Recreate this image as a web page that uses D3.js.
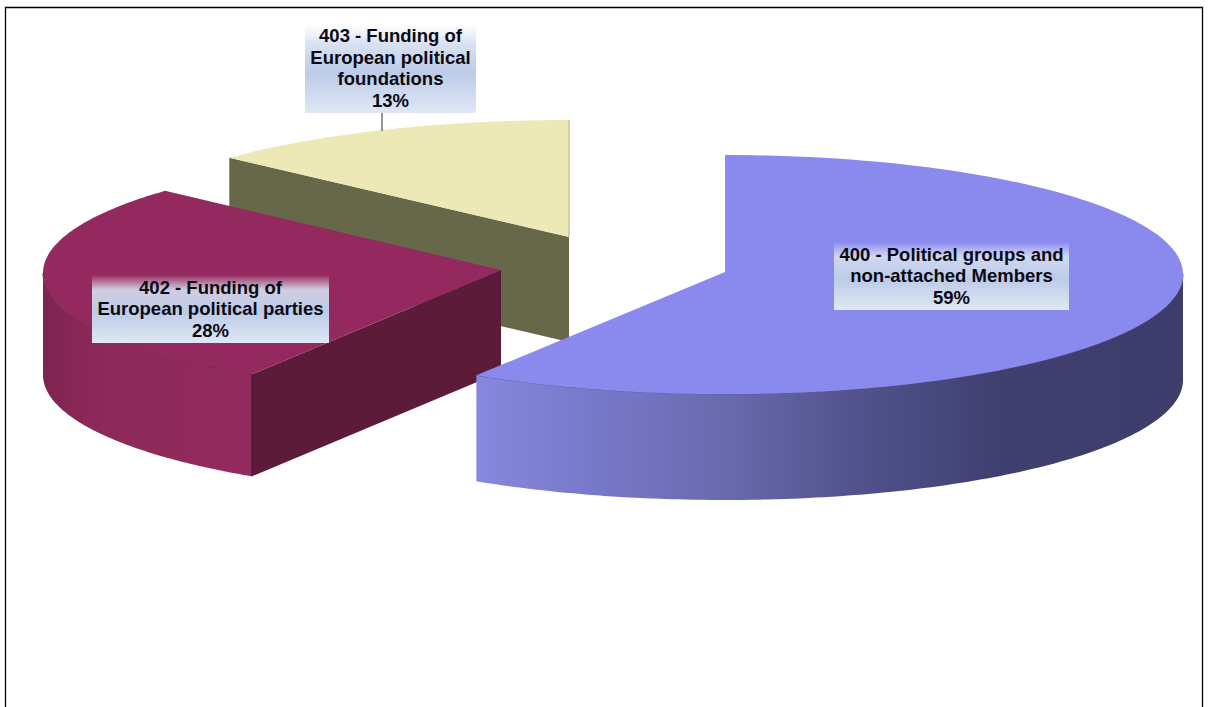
<!DOCTYPE html>
<html>
<head>
<meta charset="utf-8">
<script src="https://cdn.jsdelivr.net/npm/d3@7"></script>
<style>
  html, body { margin: 0; padding: 0; background: #fff; overflow: hidden; }
  svg { display: block; }
  text { font-family: "Liberation Sans", Arial, sans-serif; font-weight: bold; fill: #0a0a14; }
</style>
</head>
<body>
<svg id="chart" width="1209" height="707"></svg>
<script>
// Budget shares
const codes = ["400", "402", "403"];
const names = [
  ["400 - Political groups and", "non-attached Members"],
  ["402 - Funding of", "European political parties"],
  ["403 - Funding of", "European political", "foundations"]
];
const shares = [59, 28, 13];

// Exploded-pie layout, one entry per code.
// apex: inner corner of the slice; ellipse: rim centre and half-axes
// (left, right, up, down), since the oblique view is not quite symmetric.
const apexes = { "400": [725, 272], "402": [501, 270], "403": [569, 237] };
const ellipses = {
  "400": { cx: 725, cy: 274, l: 464, r: 458, u: 119, d: 120 },
  "402": { cx: 493, cy: 273, l: 450, r: 450, u: 120, d: 120 },
  "403": { cx: 569, cy: 240, l: 466, r: 466, u: 120, d: 120 }
};
const depths = { "400": 106, "402": 102, "403": 105 };
const boxes = {
  "400": { x: 834, y: 242, w: 235, h: 68 },
  "402": { x: 92, y: 275, w: 237, h: 68 },
  "403": { x: 305, y: 23, w: 171, h: 90 }
};
const topFill = { "400": "#8a8aee", "402": "#93295e", "403": "#ece9b7" };
const cutFill = { "402": "#5c1b38", "403": "#67684a" };

const svg = d3.select("#chart");
const defs = svg.append("defs");

function hGradient(id, x1, x2, stops) {
  const g = defs.append("linearGradient").attr("id", id)
    .attr("gradientUnits", "userSpaceOnUse")
    .attr("x1", x1).attr("x2", x2).attr("y1", 0).attr("y2", 0);
  stops.forEach(s => g.append("stop").attr("offset", s[0]).attr("stop-color", s[1]));
}
hGradient("side400", 476, 1183, [[0, "#8787de"], [0.18, "#7777c8"], [0.35, "#6a6aae"], [0.55, "#50518a"], [0.74, "#3f4070"], [1, "#3c3d6a"]]);
hGradient("side402", 43, 253, [[0, "#7d2450"], [0.25, "#8d295a"], [1, "#932b5e"]]);

const labelFade = defs.append("linearGradient").attr("id", "labelFade")
  .attr("x1", 0).attr("x2", 0).attr("y1", 0).attr("y2", 1);
[[0, "#e8edf6", 0], [0.22, "#d6dff0", 0.9], [0.55, "#bccbe8", 1], [1, "#e0e7f4", 1]].forEach(s =>
  labelFade.append("stop").attr("offset", s[0]).attr("stop-color", s[1]).attr("stop-opacity", s[2]));

const slices = d3.pie().sort(null).value(d => d.share)(
  codes.map((code, i) => ({ code, share: shares[i], lines: names[i] }))
);

// A slice lives on its own ellipse: angle -> screen position
function projector(code) {
  const e = ellipses[code];
  const sx = d3.scaleLinear().domain([-1, 0, 1]).range([e.cx - e.l, e.cx, e.cx + e.r]);
  const sy = d3.scaleLinear().domain([-1, 0, 1]).range([e.cy + e.d, e.cy, e.cy - e.u]);
  return a => [sx(Math.sin(a)), sy(Math.cos(a))];
}
const sweep = (a0, a1) => d3.range(0, 121).map(i => a0 + (a1 - a0) * i / 120);
const line = d3.line();
const lower = (pts, d) => pts.map(p => [p[0], p[1] + d]);

// Painted back to front so the nearer slices cover the rest
[...slices].reverse().forEach(s => {
  const code = s.data.code;
  const at = projector(code);
  const depth = depths[code];
  const g = svg.append("g").attr("class", "slice-" + code);
  const apex = apexes[code];

  // Cut wall running from the centre to the slice's leading radius
  if (cutFill[code]) {
    const wall = [apex, at(s.startAngle)];
    g.append("path")
      .attr("d", line([...wall, ...lower(wall, depth).reverse()]) + "Z")
      .attr("fill", cutFill[code]);
  }

  // Curved outer wall, only the part that faces the viewer
  const frontStart = Math.max(s.startAngle, Math.PI / 2);
  const frontEnd = Math.min(s.endAngle, Math.PI * 1.5);
  if (frontEnd > frontStart) {
    const arc = sweep(frontStart, frontEnd).map(at);
    g.append("path")
      .attr("d", line([...arc, ...lower(arc, depth).reverse()]) + "Z")
      .attr("fill", `url(#side${code})`);
    g.append("path").attr("d", line(arc)).attr("fill", "none")
      .attr("stroke", code === "400" ? "#5d5db4" : "#74204a").attr("stroke-width", 1);
  }

  // Flat top of the slice
  const rim = sweep(s.startAngle, s.endAngle).map(at);
  g.append("path")
    .attr("d", line([apex, ...rim]) + "Z")
    .attr("fill", topFill[code]);
});

// Corner edges of the walls and leader line
const corner402 = projector("402")(slices[1].startAngle);
svg.append("path")
  .attr("d", line([corner402, [corner402[0], corner402[1] + depths["402"]]]))
  .attr("stroke", "#4c1630").attr("stroke-width", 1.2).attr("fill", "none");
const rim403 = projector("403")(slices[2].endAngle);
svg.append("path").attr("d", line([rim403, apexes["403"]]))
  .attr("stroke", "#c9c3a0").attr("stroke-width", 1.5).attr("fill", "none");
svg.append("path").attr("d", line([[382, boxes["403"].y + boxes["403"].h], [382, 131]]))
  .attr("stroke", "#2a2a2a").attr("stroke-width", 1).attr("fill", "none");

// Data labels
slices.forEach(s => {
  const b = boxes[s.data.code];
  const lines = [...s.data.lines, s.data.share + "%"];
  svg.append("rect").attr("x", b.x).attr("y", b.y).attr("width", b.w).attr("height", b.h)
    .attr("fill", "url(#labelFade)");
  const step = 21.8;
  const first = b.y + b.h / 2 - step * (lines.length - 1) / 2;
  svg.append("g").selectAll("text").data(lines).join("text")
    .attr("x", b.x + b.w / 2)
    .attr("y", (d, i) => first + i * step)
    .attr("dy", "0.35em")
    .attr("text-anchor", "middle")
    .attr("font-size", 18.5)
    .text(d => d);
});

// Chart frame, cut off by the page at the bottom
svg.append("path")
  .attr("d", line([[5.5, 707], [5.5, 7.5], [1202.5, 7.5], [1202.5, 707]]))
  .attr("fill", "none").attr("stroke", "#000").attr("stroke-width", 1.3);
</script>
</body>
</html>
